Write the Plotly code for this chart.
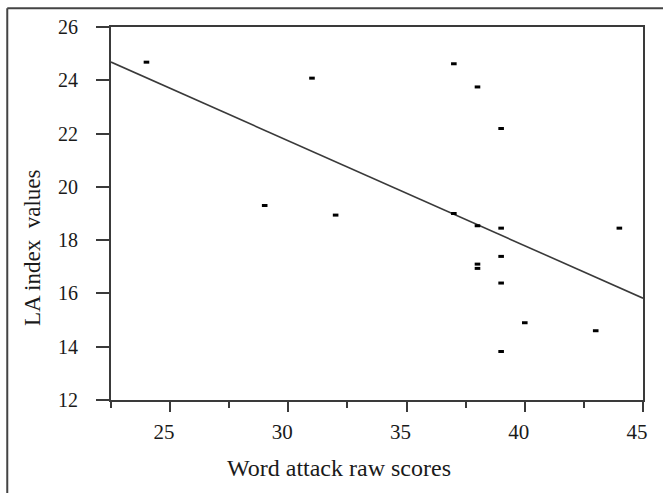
import plotly.graph_objects as go
import numpy as np

# Data
word_attack = [24, 31, 37, 38, 39, 29, 32, 37, 38, 39, 44, 39, 38, 38, 39, 40, 43, 39]
la_index = [24.68, 24.08, 24.62, 23.75, 22.19, 19.3, 18.94, 19.0, 18.54, 18.45, 18.45,
            17.39, 17.1, 16.94, 16.39, 14.9, 14.6, 13.82]

fit_slope = -0.394
fit_intercept = 33.55

x_range = [22.5, 45]
y_range = [12, 26]
y_ticks = [12, 14, 16, 18, 20, 22, 24, 26]
x_ticks = [25, 30, 35, 40, 45]

x_title = "Word attack raw scores"
y_title = "LA index\u00a0 values"

FONT = "Liberation Serif, Times New Roman, serif"
AXC = "#3a3a3a"

fit_x = np.array(x_range)
fit_y = fit_intercept + fit_slope * fit_x

fig = go.Figure()
fig.add_trace(go.Scatter(x=fit_x, y=fit_y, mode="lines",
                         line=dict(color="#3a3a3a", width=1.6),
                         hoverinfo="skip", showlegend=False, cliponaxis=False))
fig.add_trace(go.Scatter(x=word_attack, y=la_index, mode="markers",
                         marker=dict(symbol="line-ew", size=4,
                                     line=dict(width=3, color="black")),
                         showlegend=False))

fig.update_layout(
    width=663, height=493,
    margin=dict(l=111, r=20, t=27, b=93),
    paper_bgcolor="white", plot_bgcolor="white",
    font=dict(family=FONT, color="#1a1a1a"),
    xaxis=dict(range=x_range, tickvals=x_ticks, showgrid=False, zeroline=False,
               showline=True, linecolor=AXC, linewidth=2, mirror=True,
               ticks="outside", ticklen=10, tickwidth=2, tickcolor=AXC,
               minor=dict(tickvals=[22.5, 27.5, 32.5, 37.5, 42.5], ticks="outside",
                          ticklen=6, tickwidth=2, tickcolor=AXC),
               tickfont=dict(size=21, family=FONT), ticklabelstandoff=2,
               ticklabelshift=-6),
    yaxis=dict(range=y_range, tickvals=y_ticks, showgrid=False, zeroline=False,
               showline=True, linecolor=AXC, linewidth=2, mirror=True,
               ticks="outside", ticklen=13, tickwidth=2, tickcolor=AXC,
               tickfont=dict(size=20, family=FONT), ticklabelstandoff=14),
    annotations=[
        dict(text=x_title, xref="paper", yref="paper", x=0.4286, y=-0.182,
             xanchor="center", yanchor="middle", showarrow=False,
             font=dict(size=24, family=FONT, color="#1a1a1a")),
        dict(text=y_title, xref="paper", yref="paper", x=-0.1485, y=0.41,
             xanchor="center", yanchor="middle", showarrow=False, textangle=-90,
             font=dict(size=23, family=FONT, color="#1a1a1a")),
    ],
    shapes=[
        dict(type="line", xref="paper", yref="paper", x0=-0.195, x1=1.2, y0=1.05, y1=1.05,
             line=dict(color="#444", width=2)),
        dict(type="line", xref="paper", yref="paper", x0=-0.195, x1=-0.195, y0=1.05, y1=-0.4,
             line=dict(color="#444", width=2)),
    ],
)

fig.write_html("out.html")
